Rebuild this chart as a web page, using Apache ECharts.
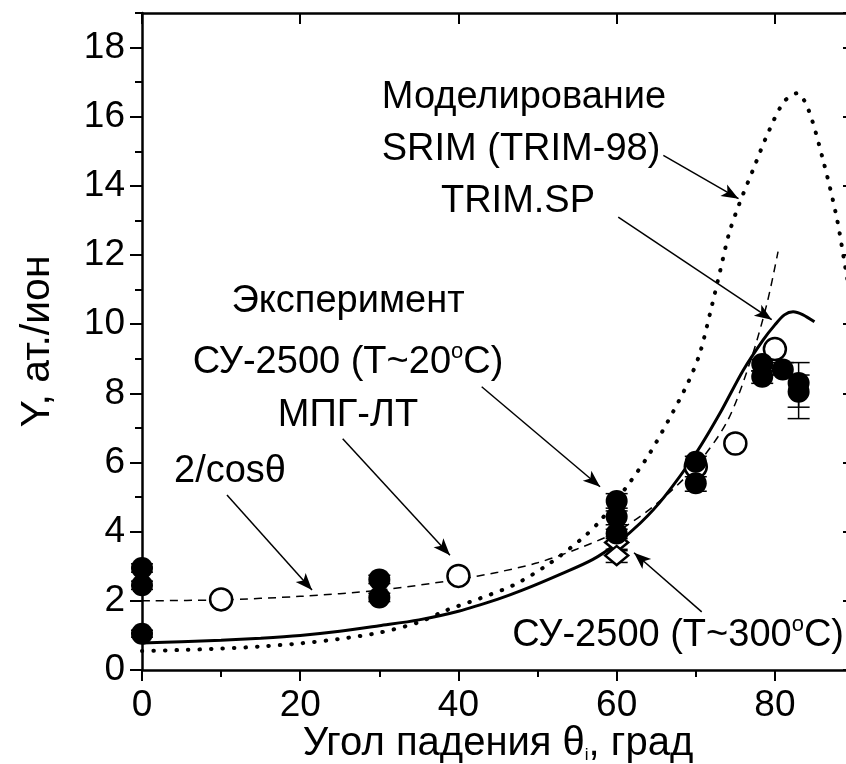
<!DOCTYPE html>
<html>
<head>
<meta charset="utf-8">
<script src="https://cdn.jsdelivr.net/npm/echarts@6/dist/echarts.min.js"></script>
<style>
  html, body { margin: 0; padding: 0; background: #fff; }
  #main { width: 846px; height: 764px; }
</style>
</head>
<body>
<div id="main"></div>
<script>
// TRIM.SP (solid)
var trimSp = [[0,0.78],[5,0.82],[10,0.86],[15,0.92],[20,1.0],[25,1.12],[30,1.28],[35,1.45],[40,1.7],[45,2.05],
  [48,2.3],[53,2.78],[57,3.2],[60,3.66],[63,4.25],[66,5.0],[70,6.26],[73,7.4],[76,8.67],[78.5,9.54],[80,9.98],
  [81.2,10.27],[82.3,10.36],[83.5,10.28],[85,10.07]];
// SRIM (TRIM-98) (dotted)
var srim = [[0,0.55],[5,0.58],[10,0.62],[15,0.68],[20,0.77],[25,0.9],[30,1.08],[35,1.38],[38.5,1.73],[42.7,2.07],
  [47,2.46],[51.2,3.03],[55.4,3.76],[57.7,4.26],[61.1,5.25],[64,6.2],[66.5,7.2],[69,8.3],[70.5,9.15],[71.8,10.31],
  [73.1,11.56],[74.2,12.62],[75.5,13.48],[77.3,14.5],[79,15.46],[81.1,16.42],[82.8,16.68],[84.2,16.23],[86.1,14.74],
  [87.8,13.1],[88.9,11.65],[90,10.2]];
// 2/cos(theta) (dashed)
var cosCurve = [[0,2.0],[10,2.03],[20,2.13],[30,2.31],[40,2.62],[45,2.83],[50,3.1],[55,3.5],[60,4.0],[65,4.8],
  [70,5.9],[74,7.2],[77,9.0],[79,10.6],[80.4,12.1]];
// СУ-2500 (T~20°C), filled circles
var su20 = [[0,2.95],[0,2.45],[0,1.05],[30,2.62],[30,2.10],[60,4.89],[60,4.43],[60,3.95],[70,6.02],[70,5.40],
  [78.4,8.85],[78.4,8.48],[81,8.69],[83,8.30],[83,8.05]];
var su20Err = [[0,2.83,3.07],[0,2.33,2.57],[0,0.95,1.15],[30,2.50,2.74],[30,1.98,2.22],[60,4.68,5.10],[60,4.20,4.60],
  [60,3.80,4.07],[70,5.83,6.18],[70,5.17,5.59],[78.4,8.65,8.98],[78.4,8.29,8.65],[81,8.53,8.89],[83,7.27,8.89],[83,7.60,8.53]];
// МПГ-ЛТ, open circles
var mpg = [[10,2.04],[40,2.72],[70,5.88],[75,6.55],[80,9.28]];
// СУ-2500 (T~300°C), open diamonds
var su300 = [[60,3.69],[60,3.31]];
var su300Err = [[60,3.49,3.85],[60,3.11,3.45]];
// annotation arrows [from, to] in data units
var arrows = [
  [[10.74,5.06],[21.49,2.31]],
  [[25.37,6.69],[38.93,3.32]],
  [[42.94,8.19],[57.9,5.30]],
  [[65.9,14.88],[75.4,13.63]],
  [[60.2,13.10],[79.6,10.13]],
  [[70.75,1.68],[62.19,3.39]]
];

var FONT = 'Liberation Sans';
var myChart = echarts.init(document.getElementById('main'));

function errItem(params, api) {
  var x = api.value(0);
  var p1 = api.coord([x, api.value(1)]);
  var p2 = api.coord([x, api.value(2)]);
  var h = 11;
  var st = { stroke: '#000', lineWidth: 1.5 };
  return {
    type: 'group',
    children: [
      { type: 'line', shape: { x1: p1[0], y1: p1[1], x2: p2[0], y2: p2[1] }, style: st },
      { type: 'line', shape: { x1: p1[0] - h, y1: p1[1], x2: p1[0] + h, y2: p1[1] }, style: st },
      { type: 'line', shape: { x1: p2[0] - h, y1: p2[1], x2: p2[0] + h, y2: p2[1] }, style: st }
    ]
  };
}

var axisCommon = {
  type: 'value', splitLine: { show: false },
  axisLine: { show: true, onZero: false, lineStyle: { color: '#000', width: 2.5 } }
};

var supRich = {
  a: { fontSize: 38, fontFamily: FONT, fill: '#000', lineHeight: 44 },
  o: { fontSize: 22, fontFamily: FONT, fill: '#000', lineHeight: 22, verticalAlign: 'top' }
};

var option = {
  animation: false,
  backgroundColor: '#fff',
  textStyle: { fontFamily: FONT },
  grid: { left: 142, top: 13, right: -8, bottom: 94, containLabel: false, outerBoundsMode: 'none' },
  xAxis: [
    Object.assign({}, axisCommon, {
      position: 'bottom', min: 0, max: 90, interval: 20,
      axisTick: { length: 11, lineStyle: { width: 2, color: '#000' } },
      axisLabel: { fontSize: 37, color: '#000', margin: 17, showMaxLabel: false, fontFamily: FONT },
      name: '{a|Угол падения θ}{s|i}{a|, град}',
      nameLocation: 'middle', nameGap: 54, nameMoveOverlap: false,
      nameTextStyle: {
        color: '#000', fontFamily: FONT,
        rich: { a: { fontSize: 40, color: '#000', fontFamily: FONT }, s: { fontSize: 17, color: '#000', verticalAlign: 'bottom', fontFamily: FONT } }
      }
    }),
    Object.assign({}, axisCommon, {
      position: 'top', min: 0, max: 90, interval: 20,
      axisTick: { inside: true, length: 11, lineStyle: { width: 2, color: '#000' } },
      axisLabel: { show: false }
    }),
    Object.assign({}, axisCommon, {
      position: 'bottom', min: 0, max: 90, interval: 10,
      axisLine: { show: false },
      axisTick: { length: 7, lineStyle: { width: 2, color: '#000' } },
      axisLabel: { show: false }
    })
  ],
  yAxis: [
    Object.assign({}, axisCommon, {
      position: 'left', min: 0, max: 19, interval: 2,
      axisTick: { length: 12, lineStyle: { width: 2, color: '#000' } },
      axisLabel: { fontSize: 37, color: '#000', margin: 17, showMaxLabel: false, fontFamily: FONT },
      name: 'Y, ат./ион', nameLocation: 'middle', nameRotate: 90, nameGap: 84, nameMoveOverlap: false,
      nameTextStyle: { fontSize: 41, color: '#000', fontFamily: FONT }
    }),
    Object.assign({}, axisCommon, {
      position: 'right', min: 0, max: 19, interval: 2,
      axisTick: { inside: true, length: 11, lineStyle: { width: 2, color: '#000' } },
      axisLabel: { show: false }
    }),
    Object.assign({}, axisCommon, {
      position: 'left', min: 0, max: 19, interval: 1,
      axisLine: { show: false },
      axisTick: { length: 7, lineStyle: { width: 2, color: '#000' } },
      axisLabel: { show: false }
    })
  ],
  series: [
    {
      name: 'SRIM (TRIM-98)', type: 'line', data: srim, smooth: 0.3, showSymbol: false,
      lineStyle: { color: '#000', width: 4, type: [0.5, 11], cap: 'round' },
      markLine: {
        silent: true, symbol: ['none', 'arrow'], symbolSize: [10, 17],
        lineStyle: { color: '#000', width: 1.5, type: 'solid' },
        label: { show: false },
        data: arrows.map(function (a) { return [{ coord: a[0] }, { coord: a[1] }]; })
      }
    },
    {
      name: '2/cosθ', type: 'line', data: cosCurve, smooth: 0.3, showSymbol: false,
      lineStyle: { color: '#000', width: 1.5, type: [8, 6] }
    },
    {
      name: 'TRIM.SP', type: 'line', data: trimSp, smooth: 0.3, showSymbol: false,
      lineStyle: { color: '#000', width: 3 }
    },
    { type: 'custom', renderItem: errItem, data: su20Err, encode: { x: 0, y: [1, 2] }, z: 3 },
    { type: 'custom', renderItem: errItem, data: su300Err, encode: { x: 0, y: [1, 2] }, z: 3 },
    {
      name: 'МПГ-ЛТ', type: 'scatter', data: mpg, symbol: 'circle', symbolSize: 22, z: 4,
      itemStyle: { color: '#fff', borderColor: '#000', borderWidth: 2.5, opacity: 1 }
    },
    {
      name: 'СУ-2500 (T~300°C)', type: 'scatter', data: su300, symbol: 'diamond', symbolSize: [23, 19], z: 4,
      itemStyle: { color: '#fff', borderColor: '#000', borderWidth: 2.5, opacity: 1 }
    },
    {
      name: 'СУ-2500 (T~20°C)', type: 'scatter', data: su20, symbol: 'circle', symbolSize: 22, z: 5,
      itemStyle: { color: '#000', opacity: 1 }
    }
  ],
  graphic: [
    { type: 'text', x: 524, y: 98, style: { text: 'Моделирование', font: '38px ' + FONT, fill: '#000', align: 'center', verticalAlign: 'middle' } },
    { type: 'text', x: 521, y: 150, style: { text: 'SRIM (TRIM-98)', font: '38px ' + FONT, fill: '#000', align: 'center', verticalAlign: 'middle' } },
    { type: 'text', x: 518, y: 202, style: { text: 'TRIM.SP', font: '38px ' + FONT, fill: '#000', align: 'center', verticalAlign: 'middle' } },
    { type: 'text', x: 348, y: 302, style: { text: 'Эксперимент', font: '38px ' + FONT, fill: '#000', align: 'center', verticalAlign: 'middle' } },
    { type: 'text', x: 348, y: 363, style: { text: '{a|СУ-2500 (T~20}{o|o}{a|C)}', align: 'center', verticalAlign: 'middle', rich: supRich } },
    { type: 'text', x: 348, y: 416, style: { text: 'МПГ-ЛТ', font: '38px ' + FONT, fill: '#000', align: 'center', verticalAlign: 'middle' } },
    { type: 'text', x: 230, y: 472, style: { text: '2/cosθ', font: '38px ' + FONT, fill: '#000', align: 'center', verticalAlign: 'middle' } },
    { type: 'text', x: 844, y: 636, style: { text: '{a|СУ-2500 (T~300}{o|o}{a|C)}', align: 'right', verticalAlign: 'middle', rich: supRich } }
  ]
};

myChart.setOption(option);
</script>
</body>
</html>
